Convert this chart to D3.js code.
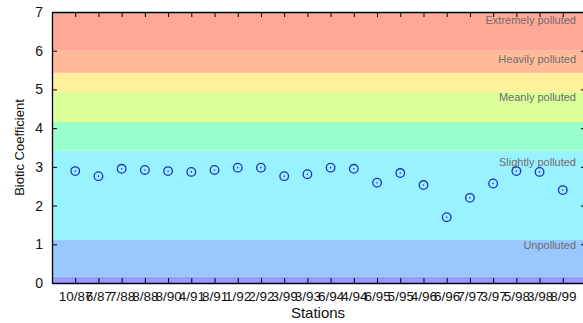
<!DOCTYPE html>
<html>
<head>
  <script src="https://cdn.jsdelivr.net/npm/d3@7/dist/d3.min.js"></script>
  <style>
    body { margin: 0; background: #fff; }
    text { font-family: Arial, "Liberation Sans", sans-serif; }
  </style>
</head>
<body>
  <svg width="583" height="323" id="mainsvg"></svg>
  <script>
    const svg = d3.select('#mainsvg');
    const margin = { top: 12, left: 52, bottom: 40 };
    const plotRight = 586; // axes run a little past the picture edge
    const plotBottom = 323 - margin.bottom;

    // stations (labels overlap in the original too)
    const stations = ['10/87', '6/87', '7/88', '8/88', '8/90', '4/91', '8/91', '1/92', '2/92', '3/99',
      '3/93', '6/94', '4/94', '6/95', '5/95', '4/96', '6/96', '7/97', '3/97', '5/98', '3/98', '8/99'];
    const biotic = [2.89, 2.76, 2.95, 2.92, 2.89, 2.87, 2.92, 2.98, 2.98, 2.76, 2.81,
      2.98, 2.95, 2.59, 2.84, 2.53, 1.70, 2.20, 2.57, 2.89, 2.87, 2.40];

    // pollution bands: lower / upper bound and colour
    const bandLow = [0, 0.16, 1.11, 3.42, 4.16, 4.94, 5.43, 6.0];
    const bandHigh = [0.16, 1.11, 3.42, 4.16, 4.94, 5.43, 6.0, 7.0];
    const bandColor = ['#9a9aff', '#98c8ff', '#98f2ff', '#98ffcc', '#dbff99', '#fff099', '#ffbb99', '#ffa898'];

    const classNames = ['Extremely polluted', 'Heavily polluted', 'Meanly polluted', 'Slightly polluted', 'Unpolluted'];
    const classAt = [6.8, 5.79, 4.79, 3.11, 0.98];

    const yTicks = [0, 1, 2, 3, 4, 5, 6, 7];

    const xScale = d3.scaleLinear().domain([0, stations.length + 1]).range([margin.left, plotRight]);
    const yScale = d3.scaleLinear().domain([0, 7]).range([plotBottom, margin.top]);
    const idx = d3.range(1, stations.length + 1);

    const g = svg.append('g');

    // bands
    g.selectAll('rect.band').data(bandLow).enter().append('rect')
      .attr('class', 'band')
      .attr('x', margin.left)
      .attr('width', plotRight - margin.left)
      .attr('y', (d, i) => yScale(bandHigh[i]))
      .attr('height', (d, i) => yScale(d) - yScale(bandHigh[i]))
      .attr('fill', (d, i) => bandColor[i]);

    // class labels
    g.selectAll('text.cls').data(classNames).enter().append('text')
      .attr('class', 'cls')
      .attr('x', 576)
      .attr('y', (d, i) => yScale(classAt[i]))
      .attr('dy', '0.35em')
      .attr('text-anchor', 'end')
      .attr('font-size', 11)
      .attr('fill', '#6e6e6e')
      .text(d => d);

    // axes
    const tickFmt = i => stations[i - 1];
    const xAxis = d3.axisBottom(xScale).tickValues(idx).tickFormat(tickFmt).tickSizeInner(-5).tickSizeOuter(0).tickPadding(8);
    const xTop = d3.axisTop(xScale).tickValues(idx).tickFormat('').tickSizeInner(-5).tickSizeOuter(0);
    const yAxis = d3.axisLeft(yScale).tickValues(yTicks).tickFormat(d3.format('d')).tickSizeInner(-5).tickSizeOuter(0).tickPadding(9);
    const yRight = d3.axisRight(yScale).tickValues(yTicks).tickFormat('').tickSizeInner(-5).tickSizeOuter(0);

    const xg = g.append('g').attr('transform', `translate(0,${plotBottom})`).call(xAxis);
    g.append('g').attr('transform', `translate(0,${margin.top})`).call(xTop);
    const yg = g.append('g').attr('transform', `translate(${margin.left},0)`).call(yAxis);
    g.append('g').attr('transform', `translate(${plotRight},0)`).call(yRight);

    g.selectAll('.domain').attr('stroke', '#000').attr('stroke-width', 1.3);
    g.selectAll('.tick line').attr('stroke', '#000');
    xg.selectAll('text').attr('font-size', 13.5).attr('fill', '#111');
    yg.selectAll('text').attr('font-size', 14).attr('fill', '#111');

    // points
    g.selectAll('circle.pt').data(biotic).enter().append('circle')
      .attr('class', 'pt')
      .attr('cx', (d, i) => xScale(i + 1))
      .attr('cy', d => yScale(d))
      .attr('r', 4.3)
      .attr('fill', 'none')
      .attr('stroke', '#1f2fc4')
      .attr('stroke-width', 1.3);
    g.selectAll('circle.dot').data(biotic).enter().append('circle')
      .attr('class', 'dot')
      .attr('cx', (d, i) => xScale(i + 1))
      .attr('cy', d => yScale(d))
      .attr('r', 0.8)
      .attr('fill', '#1f2fc4');

    // axis titles
    svg.append('text')
      .attr('x', 318)
      .attr('y', 318)
      .attr('text-anchor', 'middle')
      .attr('font-size', 15)
      .attr('fill', '#111')
      .text('Stations');
    svg.append('text')
      .attr('transform', `translate(24,${(margin.top + plotBottom) / 2}) rotate(-90)`)
      .attr('text-anchor', 'middle')
      .attr('font-size', 13)
      .attr('fill', '#111')
      .text('Biotic Coefficient');
  </script>
</body>
</html>
